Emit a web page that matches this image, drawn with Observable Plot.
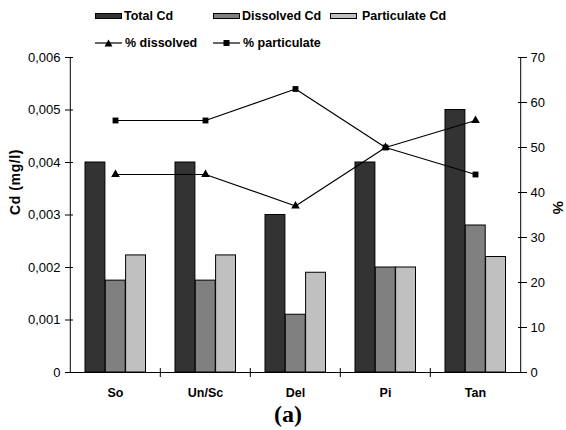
<!DOCTYPE html>
<html>
<head>
<meta charset="utf-8">
<script src="https://cdn.jsdelivr.net/npm/d3@7"></script>
<script src="https://cdn.jsdelivr.net/npm/@observablehq/plot@0.6"></script>
<style>
  body { margin: 0; background: #fff; }
  #wrap { position: relative; width: 566px; height: 430px; font-family: "Liberation Sans", Arial, sans-serif; }
  #chart { position: absolute; left: 0; top: 0; }
  .lg { position: absolute; font-size: 12.5px; font-weight: bold; line-height: 14px; white-space: nowrap; color: #000; }
  .sw { position: absolute; width: 27px; height: 6px; border: 1px solid #000; box-sizing: border-box; }
  .lm { position: absolute; }
  #cap { position: absolute; left: 0; width: 576px; top: 401px; text-align: center; font-family: "Liberation Serif", "Times New Roman", serif; font-weight: bold; font-size: 24px; line-height: 26px; }
  #chart svg g[aria-label="text"] text { letter-spacing: 0.6px; }
</style>
</head>
<body>
<div id="wrap">
  <div id="chart"></div>
  <div id="legend"></div>
  <div id="cap">(a)</div>
</div>
<script>
const categories = ["So", "Un/Sc", "Del", "Pi", "Tan"];
const totalCd = [0.004, 0.004, 0.003, 0.004, 0.005];
const dissolvedCd = [0.00175, 0.00175, 0.0011, 0.002, 0.0028];
const particulateCd = [0.00223, 0.00223, 0.0019, 0.002, 0.0022];
const pctDissolved = [44, 44, 37, 50, 56];
const pctParticulate = [56, 56, 63, 50, 44];
const leftTicks = [0, 0.001, 0.002, 0.003, 0.004, 0.005, 0.006];
const rightTicks = [0, 10, 20, 30, 40, 50, 60, 70];
const seriesNames = ["Total Cd", "Dissolved Cd", "Particulate Cd"];
const seriesColors = ["#333333", "#808080", "#c0c0c0"];
const lineNames = ["% dissolved", "% particulate"];

const W = 566, H = 430, mL = 69, mR = 45, mT = 57, mB = 58;
const yMax = 0.006, pMax = 70;
const k = yMax / pMax; // secondary axis factor
const step = (W - mL - mR) / categories.length;
const barW = 20.3, gap0 = 15;

const rows = categories.map((c, i) => ({
  cat: c, total: totalCd[i], dis: dissolvedCd[i], par: particulateCd[i],
  pd: pctDissolved[i] * k, pp: pctParticulate[i] * k
}));

const fmtLeft = v => v === 0 ? "0" : v.toFixed(3).replace(".", ",");

function barMark(field, idx) {
  const left = gap0 + idx * barW;
  return Plot.barY(rows, {
    x: "cat", y: field, fill: seriesColors[idx], stroke: "#000", strokeWidth: 1,
    insetLeft: left, insetRight: step - left - barW
  });
}

const plot = Plot.plot({
  width: W, height: H,
  marginLeft: mL, marginRight: mR, marginTop: mT, marginBottom: mB,
  style: { fontFamily: "'Liberation Sans', Arial, sans-serif", fontSize: "13px", background: "#fff", color: "#000" },
  x: { type: "band", domain: categories, padding: 0, axis: null },
  y: { domain: [0, yMax], axis: null },
  marks: [
    barMark("total", 0),
    barMark("dis", 1),
    barMark("par", 2),
    Plot.ruleY([0], { stroke: "#000", strokeWidth: 1 }),
    Plot.ruleX([categories[0]], { y1: 0, y2: yMax, dx: -step / 2, stroke: "#000" }),
    Plot.ruleX([categories[categories.length - 1]], { y1: 0, y2: yMax, dx: step / 2, stroke: "#000" }),
    Plot.ruleX(categories.slice(1), { y1: 0, y2: 0, insetTop: -4, insetBottom: -5, dx: -step / 2, stroke: "#000" }),
    Plot.axisX({ tickSize: 0, tickPadding: 16, fontWeight: "bold", fontSize: 12.5, label: null }),
    Plot.axisY({ anchor: "left", ticks: leftTicks, tickFormat: fmtLeft, tickSize: 8, dx: 4, tickPadding: 5, label: null }),
    Plot.axisY({ anchor: "right", ticks: rightTicks.map(v => v * k), tickFormat: v => String(Math.round(v / k)), tickSize: 9, dx: -4, tickPadding: 4, label: null }),
    Plot.line(rows, { x: "cat", y: "pd", stroke: "#000", strokeWidth: 1.2 }),
    Plot.line(rows, { x: "cat", y: "pp", stroke: "#000", strokeWidth: 1.2 }),
    Plot.dot(rows, { x: "cat", y: "pd", symbol: "triangle", r: 3.2, fill: "#000" }),
    Plot.dot(rows, { x: "cat", y: "pp", symbol: "square", r: 3.3, fill: "#000" }),
    Plot.text(["Cd (mg/l)"], { frameAnchor: "left", dx: -54, rotate: -90, fontWeight: "bold", fontSize: 14 }),
    Plot.text(["%"], { frameAnchor: "right", dx: 36, rotate: 90, fontWeight: "bold", fontSize: 15 })
  ]
});
document.getElementById("chart").appendChild(plot);

// Legend
const lg = document.getElementById("legend");
const swX = [95, 213, 330], txX = [124, 242, 362];
seriesNames.forEach((n, i) => {
  const s = document.createElement("div");
  s.className = "sw"; s.style.left = swX[i] + "px"; s.style.top = "13px"; s.style.background = seriesColors[i];
  lg.appendChild(s);
  const t = document.createElement("div");
  t.className = "lg"; t.style.left = txX[i] + "px"; t.style.top = "9px"; t.textContent = n;
  lg.appendChild(t);
});
const lnX = [95, 213], lnTx = [125, 243], lnSym = ["tri", "sq"];
lineNames.forEach((n, i) => {
  const svgNS = "http://www.w3.org/2000/svg";
  const svg = document.createElementNS(svgNS, "svg");
  svg.setAttribute("width", 28); svg.setAttribute("height", 10);
  svg.setAttribute("class", "lm");
  svg.style.left = lnX[i] + "px"; svg.style.top = "38px";
  const l = document.createElementNS(svgNS, "line");
  l.setAttribute("x1", 0); l.setAttribute("x2", 27); l.setAttribute("y1", 5); l.setAttribute("y2", 5);
  l.setAttribute("stroke", "#000"); l.setAttribute("stroke-width", 1.2);
  svg.appendChild(l);
  const m = document.createElementNS(svgNS, "path");
  m.setAttribute("d", lnSym[i] === "tri" ? "M13.5,1.5L17.5,8.5L9.5,8.5Z" : "M10.5,2L16.5,2L16.5,8L10.5,8Z");
  m.setAttribute("fill", "#000");
  svg.appendChild(m);
  lg.appendChild(svg);
  const t = document.createElement("div");
  t.className = "lg"; t.style.left = lnTx[i] + "px"; t.style.top = "36px"; t.textContent = n;
  lg.appendChild(t);
});
</script>
</body>
</html>
